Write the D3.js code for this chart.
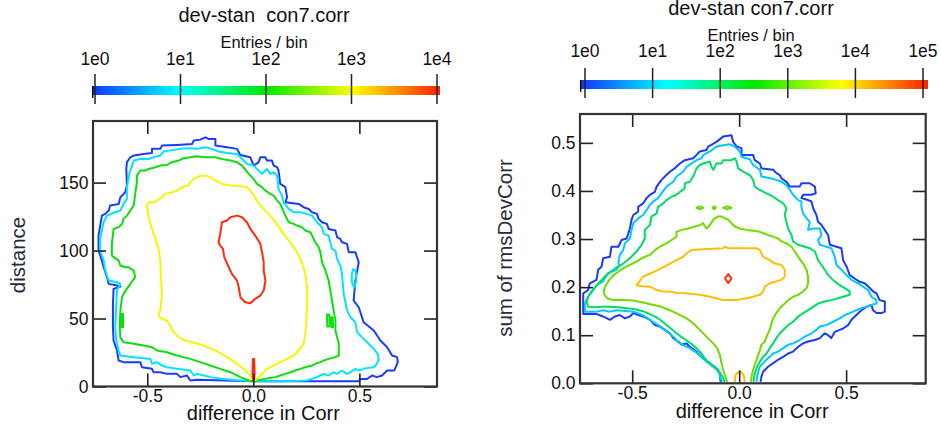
<!DOCTYPE html>
<html>
<head>
<meta charset="utf-8">
<script src="https://cdn.jsdelivr.net/npm/d3@7"></script>
<style>
  body { margin: 0; background: #fff; }
  svg { font-family: "Liberation Sans", Arial, sans-serif; }
</style>
</head>
<body>
<svg id="chart" width="941" height="427"></svg>
<script>
// ---- data ----
const leftTitle = 'dev-stan\u00a0 con7.corr';
const rightTitle = 'dev-stan con7.corr';
const barLabel = 'Entries / bin';
const xLabel = 'difference in Corr';
const leftYLabel = 'distance';
const rightYLabel = 'sum of rmsDevCorr';

const xTicks = [-0.5, 0, 0.5];
const leftYTicks = [0, 50, 100, 150];
const rightYTicks = [0, 0.1, 0.2, 0.3, 0.4, 0.5];
const leftBarTicks = [1, 10, 100, 1000, 10000];
const rightBarTicks = [1, 10, 100, 1000, 10000, 100000];

// colour ramp of the colour bar (blue -> cyan -> green -> yellow -> red)
const rampColors = ['#1034ff', '#00ffff', '#00e800', '#ffff00', '#ff2000'];

// left panel contours: [difference in Corr, distance]
const leftBlue = [[0.002,3.9],[-0.266,4.9],[-0.297,4.4],[-0.313,8.1],[-0.344,6.9],[-0.360,9.3],[-0.407,9.3],[-0.439,10.5],[-0.470,10.5],[-0.478,13.0],[-0.525,14.2],[-0.533,17.9],[-0.612,17.9],[-0.635,19.1],[-0.643,26.5],[-0.659,33.8],[-0.662,43.6],[-0.662,60.8],[-0.659,71.8],[-0.627,73.5],[-0.643,74.3],[-0.682,75.5],[-0.690,80.4],[-0.706,87.7],[-0.714,92.6],[-0.730,100.0],[-0.730,111.0],[-0.714,125.7],[-0.698,127.0],[-0.682,129.4],[-0.675,133.1],[-0.635,134.3],[-0.627,139.2],[-0.604,142.9],[-0.596,147.8],[-0.599,160.0],[-0.596,165.0],[-0.580,168.6],[-0.564,169.9],[-0.517,171.1],[-0.478,171.8],[-0.478,174.8],[-0.439,174.8],[-0.431,177.2],[-0.360,177.7],[-0.289,178.4],[-0.281,180.9],[-0.250,181.6],[-0.226,183.3],[-0.211,182.1],[-0.179,182.1],[-0.179,177.2],[-0.124,176.0],[-0.077,174.8],[-0.061,170.3],[-0.014,168.6],[0.002,162.5],[0.025,165.0],[0.033,168.6],[0.057,168.6],[0.064,166.2],[0.088,166.2],[0.096,162.5],[0.112,161.3],[0.119,158.8],[0.127,149.0],[0.151,146.6],[0.159,139.2],[0.151,135.5],[0.214,134.3],[0.237,131.9],[0.261,130.6],[0.277,128.2],[0.300,127.0],[0.308,123.3],[0.324,120.8],[0.347,119.6],[0.355,115.9],[0.387,114.7],[0.395,109.8],[0.410,108.6],[0.418,106.1],[0.442,104.9],[0.450,98.8],[0.481,98.8],[0.497,91.4],[0.481,77.9],[0.473,63.2],[0.497,58.3],[0.520,47.3],[0.568,41.2],[0.599,33.8],[0.631,28.9],[0.654,22.8],[0.678,21.6],[0.681,17.9],[0.665,11.8],[0.631,11.8],[0.607,8.1],[0.583,6.9],[0.560,8.1],[0.536,5.6],[0.505,5.6],[0.497,3.9]];
const leftCyan = [[0.002,3.9],[-0.061,4.4],[-0.140,5.6],[-0.203,6.9],[-0.234,8.1],[-0.266,9.3],[-0.281,8.1],[-0.297,11.8],[-0.360,13.0],[-0.407,14.2],[-0.431,15.4],[-0.454,17.9],[-0.478,16.7],[-0.486,20.3],[-0.564,21.6],[-0.627,22.8],[-0.635,26.5],[-0.646,33.8],[-0.651,43.6],[-0.646,60.8],[-0.643,70.6],[-0.627,75.5],[-0.643,76.7],[-0.682,77.9],[-0.698,85.3],[-0.706,92.6],[-0.722,100.0],[-0.722,108.6],[-0.706,120.8],[-0.690,125.7],[-0.651,128.2],[-0.627,129.4],[-0.612,134.3],[-0.596,138.0],[-0.596,146.6],[-0.583,157.6],[-0.572,162.5],[-0.564,166.2],[-0.533,167.4],[-0.494,167.4],[-0.470,168.6],[-0.439,169.9],[-0.423,172.8],[-0.399,173.5],[-0.344,174.8],[-0.305,175.2],[-0.266,174.8],[-0.226,176.0],[-0.195,174.8],[-0.164,172.8],[-0.124,171.8],[-0.077,171.1],[-0.061,168.6],[-0.030,163.7],[0.002,162.5],[0.025,158.8],[0.041,156.4],[0.064,160.0],[0.080,156.4],[0.096,157.6],[0.112,155.1],[0.119,145.3],[0.135,140.4],[0.143,135.5],[0.167,130.6],[0.190,128.2],[0.222,128.2],[0.253,127.0],[0.277,125.7],[0.300,120.8],[0.324,117.2],[0.332,112.3],[0.355,111.0],[0.363,106.1],[0.371,101.2],[0.387,100.0],[0.395,93.9],[0.410,89.0],[0.418,82.8],[0.426,68.1],[0.442,55.9],[0.458,51.0],[0.481,47.3],[0.489,40.0],[0.520,35.0],[0.544,31.4],[0.568,27.7],[0.586,24.0],[0.591,20.3],[0.583,16.7],[0.568,14.2],[0.544,13.7],[0.520,13.0],[0.497,11.8],[0.481,13.0],[0.458,10.5],[0.442,9.3],[0.418,11.8],[0.395,9.3],[0.379,10.5],[0.355,8.1],[0.332,9.3],[0.316,8.1],[0.300,6.9],[0.277,5.6],[0.253,4.4],[0.143,3.9]];
const leftCyanLoop = [[0.470,86.3],[0.483,85.0],[0.486,77.7],[0.476,72.8],[0.465,76.5],[0.464,82.6]];
const leftGreen = [[0.002,3.7],[-0.022,4.4],[-0.061,6.9],[-0.108,10.5],[-0.156,13.0],[-0.203,15.4],[-0.250,17.9],[-0.297,20.3],[-0.360,22.8],[-0.407,25.2],[-0.454,26.5],[-0.478,28.9],[-0.517,30.1],[-0.564,31.4],[-0.612,32.6],[-0.627,36.3],[-0.630,43.6],[-0.627,55.9],[-0.619,65.7],[-0.612,68.1],[-0.596,71.8],[-0.580,75.5],[-0.557,80.4],[-0.564,85.3],[-0.588,87.7],[-0.604,87.7],[-0.627,89.0],[-0.635,92.6],[-0.667,96.3],[-0.667,104.9],[-0.659,115.9],[-0.635,117.2],[-0.619,119.6],[-0.612,123.3],[-0.596,125.7],[-0.580,129.4],[-0.564,133.1],[-0.557,141.7],[-0.549,150.2],[-0.549,155.1],[-0.533,158.8],[-0.509,158.8],[-0.494,160.0],[-0.462,161.3],[-0.439,162.5],[-0.407,163.0],[-0.384,165.0],[-0.352,166.2],[-0.329,167.9],[-0.297,168.6],[-0.266,169.4],[-0.226,168.6],[-0.179,168.6],[-0.148,167.4],[-0.108,166.2],[-0.077,164.9],[-0.053,162.5],[-0.022,156.4],[0.002,152.7],[0.017,149.0],[0.041,146.6],[0.057,144.1],[0.080,141.7],[0.096,140.4],[0.112,136.8],[0.127,134.3],[0.151,125.7],[0.167,120.8],[0.190,119.6],[0.206,118.4],[0.230,117.2],[0.245,114.7],[0.269,113.5],[0.277,111.0],[0.292,106.1],[0.308,102.5],[0.316,98.8],[0.324,91.4],[0.340,85.3],[0.355,77.9],[0.363,70.6],[0.371,63.2],[0.379,55.9],[0.387,48.5],[0.387,41.2],[0.395,36.3],[0.403,31.4],[0.403,22.8],[0.387,21.6],[0.355,20.3],[0.332,19.1],[0.316,17.9],[0.292,16.7],[0.277,15.4],[0.245,14.2],[0.222,13.0],[0.198,11.8],[0.175,10.5],[0.151,9.3],[0.127,8.1],[0.104,6.9],[0.080,6.4],[0.057,5.6],[0.033,4.9]];
const leftGreenBits = [
  [[0.347,52.9],[0.358,52.9],[0.360,44.1],[0.349,44.1]],
  [[0.366,51.0],[0.374,51.0],[0.376,43.6],[0.368,43.6]],
  [[-0.623,53.4],[-0.614,53.4],[-0.614,43.6],[-0.623,43.6]]
];
const leftYellow = [[0.002,3.9],[-0.014,8.1],[-0.038,11.8],[-0.077,16.7],[-0.124,21.6],[-0.179,26.5],[-0.234,30.1],[-0.289,32.6],[-0.321,33.8],[-0.352,36.3],[-0.376,40.0],[-0.392,44.9],[-0.407,48.5],[-0.431,49.8],[-0.447,52.2],[-0.439,55.9],[-0.431,68.1],[-0.436,80.4],[-0.439,92.6],[-0.447,101.2],[-0.462,108.6],[-0.478,115.9],[-0.494,124.5],[-0.502,133.1],[-0.494,135.5],[-0.470,135.5],[-0.454,136.8],[-0.431,139.2],[-0.415,141.7],[-0.384,142.9],[-0.360,144.1],[-0.336,146.6],[-0.305,147.8],[-0.297,150.2],[-0.281,152.7],[-0.266,153.9],[-0.250,155.1],[-0.226,155.1],[-0.203,153.9],[-0.179,151.5],[-0.148,149.0],[-0.108,147.8],[-0.061,147.3],[-0.030,146.6],[-0.014,144.1],[0.002,140.4],[0.017,136.8],[0.033,133.1],[0.057,129.4],[0.080,125.7],[0.104,120.8],[0.127,115.9],[0.143,112.3],[0.167,107.4],[0.190,102.5],[0.206,98.8],[0.222,93.9],[0.234,89.0],[0.245,82.8],[0.253,73.0],[0.253,60.8],[0.250,48.5],[0.245,38.7],[0.237,31.4],[0.214,26.5],[0.190,22.8],[0.159,20.3],[0.127,17.9],[0.096,15.4],[0.064,13.0],[0.041,9.3],[0.017,5.6]];
const leftRed = [[-0.077,125.7],[-0.108,124.5],[-0.124,122.1],[-0.148,120.8],[-0.156,112.3],[-0.164,106.1],[-0.156,103.7],[-0.143,101.2],[-0.137,95.1],[-0.116,87.7],[-0.101,82.8],[-0.077,77.9],[-0.069,73.0],[-0.061,65.7],[-0.038,62.0],[-0.014,61.3],[0.009,64.5],[0.033,66.9],[0.049,70.6],[0.057,77.9],[0.049,85.3],[0.049,91.4],[0.041,98.8],[0.033,104.9],[0.009,111.0],[-0.014,115.9],[-0.030,120.8],[-0.053,124.5]];
const leftRedSpike = [[-0.002,20.3],[0.004,20.3],[0.006,9.3],[0.003,3.9],[-0.001,3.9],[-0.004,9.3]];

// right panel contours: [difference in Corr, sum of rmsDevCorr]
const rightBlue = [[-0.087,0.003],[-0.090,0.021],[-0.106,0.031],[-0.121,0.035],[-0.137,0.042],[-0.160,0.049],[-0.176,0.055],[-0.192,0.062],[-0.207,0.069],[-0.231,0.076],[-0.246,0.083],[-0.269,0.080],[-0.285,0.087],[-0.308,0.094],[-0.324,0.104],[-0.347,0.111],[-0.371,0.118],[-0.394,0.121],[-0.417,0.132],[-0.449,0.139],[-0.472,0.142],[-0.495,0.146],[-0.511,0.139],[-0.534,0.135],[-0.558,0.142],[-0.581,0.139],[-0.604,0.132],[-0.636,0.139],[-0.667,0.144],[-0.729,0.144],[-0.729,0.187],[-0.706,0.194],[-0.698,0.208],[-0.667,0.215],[-0.659,0.236],[-0.643,0.243],[-0.636,0.260],[-0.604,0.263],[-0.597,0.284],[-0.565,0.284],[-0.550,0.298],[-0.526,0.301],[-0.511,0.322],[-0.503,0.340],[-0.495,0.350],[-0.472,0.357],[-0.472,0.367],[-0.449,0.374],[-0.433,0.385],[-0.417,0.392],[-0.394,0.398],[-0.386,0.409],[-0.363,0.423],[-0.340,0.433],[-0.324,0.440],[-0.301,0.447],[-0.277,0.457],[-0.254,0.464],[-0.215,0.468],[-0.199,0.475],[-0.184,0.482],[-0.153,0.485],[-0.145,0.492],[-0.106,0.502],[-0.075,0.513],[-0.036,0.516],[-0.028,0.502],[-0.012,0.492],[0.011,0.489],[0.011,0.475],[0.065,0.475],[0.073,0.464],[0.097,0.457],[0.104,0.447],[0.159,0.444],[0.174,0.437],[0.190,0.433],[0.198,0.426],[0.221,0.419],[0.237,0.409],[0.283,0.409],[0.291,0.416],[0.330,0.416],[0.354,0.409],[0.358,0.395],[0.338,0.392],[0.299,0.392],[0.291,0.385],[0.322,0.381],[0.338,0.378],[0.346,0.364],[0.361,0.350],[0.369,0.336],[0.385,0.329],[0.400,0.319],[0.416,0.308],[0.424,0.288],[0.455,0.284],[0.478,0.281],[0.486,0.256],[0.502,0.243],[0.517,0.225],[0.540,0.218],[0.564,0.211],[0.587,0.208],[0.611,0.198],[0.626,0.191],[0.642,0.187],[0.657,0.173],[0.681,0.170],[0.681,0.149],[0.665,0.146],[0.642,0.146],[0.626,0.152],[0.618,0.163],[0.595,0.159],[0.572,0.152],[0.548,0.142],[0.525,0.132],[0.509,0.121],[0.486,0.114],[0.470,0.111],[0.447,0.107],[0.431,0.094],[0.416,0.100],[0.400,0.104],[0.377,0.094],[0.354,0.090],[0.322,0.087],[0.299,0.083],[0.276,0.076],[0.252,0.066],[0.229,0.062],[0.206,0.055],[0.182,0.049],[0.159,0.042],[0.136,0.035],[0.112,0.024],[0.104,0.014],[0.100,0.003]];
const rightCyan = [[-0.078,0.003],[-0.087,0.010],[-0.093,0.021],[-0.106,0.029],[-0.129,0.037],[-0.150,0.044],[-0.168,0.051],[-0.184,0.058],[-0.207,0.066],[-0.231,0.073],[-0.254,0.078],[-0.285,0.085],[-0.301,0.094],[-0.324,0.103],[-0.347,0.111],[-0.371,0.119],[-0.394,0.125],[-0.417,0.132],[-0.441,0.139],[-0.464,0.144],[-0.495,0.149],[-0.542,0.151],[-0.573,0.152],[-0.604,0.149],[-0.636,0.152],[-0.667,0.149],[-0.721,0.149],[-0.721,0.166],[-0.706,0.180],[-0.682,0.194],[-0.667,0.204],[-0.639,0.211],[-0.612,0.229],[-0.573,0.236],[-0.558,0.246],[-0.565,0.249],[-0.558,0.267],[-0.542,0.277],[-0.534,0.291],[-0.511,0.301],[-0.503,0.319],[-0.495,0.333],[-0.472,0.343],[-0.449,0.350],[-0.433,0.360],[-0.417,0.371],[-0.402,0.378],[-0.379,0.385],[-0.363,0.395],[-0.340,0.409],[-0.308,0.419],[-0.293,0.430],[-0.262,0.440],[-0.246,0.450],[-0.223,0.457],[-0.199,0.464],[-0.176,0.468],[-0.168,0.475],[-0.137,0.482],[-0.106,0.492],[-0.075,0.495],[-0.044,0.497],[-0.020,0.492],[0.003,0.482],[0.011,0.471],[0.050,0.466],[0.065,0.454],[0.097,0.444],[0.104,0.430],[0.151,0.426],[0.174,0.423],[0.198,0.419],[0.221,0.412],[0.237,0.402],[0.252,0.392],[0.276,0.381],[0.291,0.378],[0.291,0.367],[0.299,0.353],[0.315,0.343],[0.330,0.336],[0.322,0.319],[0.346,0.322],[0.377,0.322],[0.385,0.308],[0.369,0.298],[0.377,0.288],[0.408,0.284],[0.431,0.281],[0.447,0.263],[0.455,0.246],[0.478,0.236],[0.502,0.225],[0.525,0.215],[0.556,0.208],[0.579,0.201],[0.603,0.194],[0.618,0.180],[0.642,0.173],[0.642,0.166],[0.618,0.163],[0.595,0.159],[0.572,0.156],[0.548,0.152],[0.517,0.146],[0.494,0.142],[0.470,0.135],[0.439,0.128],[0.408,0.121],[0.377,0.118],[0.361,0.111],[0.338,0.104],[0.307,0.097],[0.283,0.090],[0.252,0.083],[0.229,0.080],[0.206,0.073],[0.182,0.066],[0.159,0.062],[0.143,0.055],[0.128,0.049],[0.112,0.042],[0.097,0.035],[0.089,0.024],[0.084,0.014],[0.081,0.003]];
const rightTeal = [[-0.067,0.003],[-0.078,0.014],[-0.093,0.024],[-0.114,0.035],[-0.140,0.042],[-0.160,0.052],[-0.176,0.062],[-0.199,0.073],[-0.223,0.082],[-0.246,0.089],[-0.269,0.096],[-0.293,0.104],[-0.316,0.113],[-0.340,0.121],[-0.363,0.130],[-0.386,0.137],[-0.417,0.144],[-0.449,0.150],[-0.488,0.154],[-0.526,0.156],[-0.565,0.158],[-0.604,0.159],[-0.643,0.159],[-0.674,0.158],[-0.706,0.159],[-0.713,0.170],[-0.706,0.180],[-0.690,0.191],[-0.670,0.201],[-0.651,0.211],[-0.628,0.222],[-0.604,0.231],[-0.573,0.241],[-0.542,0.249],[-0.511,0.260],[-0.480,0.274],[-0.456,0.288],[-0.441,0.301],[-0.441,0.319],[-0.417,0.329],[-0.410,0.347],[-0.386,0.353],[-0.379,0.367],[-0.355,0.374],[-0.340,0.381],[-0.316,0.388],[-0.293,0.392],[-0.277,0.398],[-0.254,0.405],[-0.254,0.416],[-0.231,0.419],[-0.215,0.430],[-0.199,0.447],[-0.184,0.454],[-0.168,0.457],[-0.137,0.461],[-0.129,0.450],[-0.121,0.444],[-0.114,0.450],[-0.106,0.457],[-0.083,0.457],[-0.075,0.464],[-0.036,0.464],[-0.020,0.468],[-0.012,0.461],[-0.005,0.447],[0.019,0.440],[0.050,0.433],[0.065,0.423],[0.073,0.409],[0.097,0.402],[0.128,0.395],[0.159,0.388],[0.182,0.381],[0.206,0.374],[0.221,0.364],[0.213,0.350],[0.221,0.336],[0.229,0.322],[0.245,0.308],[0.252,0.295],[0.276,0.288],[0.307,0.284],[0.330,0.281],[0.354,0.274],[0.369,0.256],[0.385,0.246],[0.400,0.236],[0.416,0.225],[0.439,0.215],[0.470,0.204],[0.494,0.198],[0.517,0.191],[0.517,0.184],[0.486,0.180],[0.463,0.177],[0.431,0.173],[0.400,0.170],[0.369,0.166],[0.346,0.159],[0.322,0.152],[0.299,0.146],[0.276,0.139],[0.252,0.128],[0.229,0.121],[0.206,0.111],[0.190,0.104],[0.174,0.094],[0.159,0.083],[0.143,0.073],[0.128,0.062],[0.112,0.055],[0.097,0.045],[0.084,0.035],[0.076,0.024],[0.070,0.014],[0.067,0.003]];
const rightLime = [[-0.056,0.003],[-0.072,0.024],[-0.083,0.042],[-0.090,0.059],[-0.103,0.073],[-0.121,0.083],[-0.153,0.097],[-0.184,0.111],[-0.215,0.125],[-0.246,0.135],[-0.285,0.144],[-0.324,0.152],[-0.363,0.159],[-0.410,0.164],[-0.449,0.168],[-0.495,0.172],[-0.542,0.173],[-0.589,0.173],[-0.617,0.177],[-0.631,0.185],[-0.632,0.194],[-0.623,0.204],[-0.607,0.215],[-0.589,0.224],[-0.565,0.232],[-0.534,0.241],[-0.503,0.248],[-0.480,0.253],[-0.456,0.260],[-0.417,0.267],[-0.394,0.277],[-0.371,0.284],[-0.340,0.291],[-0.316,0.298],[-0.293,0.305],[-0.293,0.315],[-0.269,0.319],[-0.238,0.322],[-0.207,0.326],[-0.184,0.329],[-0.168,0.333],[-0.160,0.326],[-0.153,0.322],[-0.137,0.329],[-0.121,0.340],[-0.114,0.343],[-0.098,0.347],[-0.083,0.347],[-0.067,0.343],[-0.051,0.340],[-0.036,0.333],[-0.020,0.326],[0.003,0.322],[0.034,0.319],[0.065,0.317],[0.097,0.315],[0.136,0.308],[0.159,0.305],[0.182,0.301],[0.198,0.295],[0.221,0.291],[0.245,0.284],[0.260,0.274],[0.276,0.263],[0.299,0.249],[0.315,0.236],[0.322,0.222],[0.322,0.208],[0.315,0.198],[0.299,0.191],[0.276,0.184],[0.252,0.180],[0.229,0.173],[0.213,0.166],[0.190,0.156],[0.174,0.146],[0.159,0.135],[0.151,0.125],[0.143,0.111],[0.128,0.097],[0.120,0.087],[0.104,0.080],[0.097,0.069],[0.089,0.059],[0.081,0.049],[0.073,0.038],[0.065,0.028],[0.058,0.014],[0.055,0.003]];
const rightLimeDashes = [
  [[-0.199,0.365],[-0.184,0.368],[-0.168,0.365],[-0.184,0.362]],
  [[-0.125,0.365],[-0.117,0.368],[-0.109,0.365],[-0.117,0.362]],
  [[-0.075,0.365],[-0.055,0.368],[-0.036,0.365],[-0.055,0.362]]
];
const rightOrange = [[-0.480,0.204],[-0.449,0.222],[-0.410,0.229],[-0.379,0.236],[-0.347,0.243],[-0.324,0.249],[-0.293,0.256],[-0.262,0.263],[-0.246,0.270],[-0.223,0.277],[-0.168,0.279],[-0.075,0.281],[-0.067,0.284],[-0.051,0.281],[0.081,0.281],[0.097,0.277],[0.112,0.263],[0.143,0.256],[0.167,0.249],[0.198,0.246],[0.213,0.236],[0.213,0.222],[0.198,0.215],[0.167,0.211],[0.143,0.208],[0.120,0.201],[0.112,0.191],[0.097,0.184],[0.065,0.180],[0.034,0.177],[-0.012,0.173],[-0.075,0.173],[-0.106,0.177],[-0.137,0.180],[-0.184,0.184],[-0.246,0.187],[-0.293,0.188],[-0.324,0.191],[-0.355,0.191],[-0.386,0.194],[-0.417,0.201],[-0.449,0.202]];
const rightOrangeArc = [[-0.020,0.003],[-0.017,0.017],[-0.005,0.023],[0.011,0.023],[0.022,0.016],[0.026,0.003]];
const rightRed = [[-0.066,0.218],[-0.051,0.227],[-0.036,0.218],[-0.051,0.208]];

// ---- drawing ----
const svg = d3.select('#chart');
const defs = svg.append('defs');

// Function to draw one colour bar with its log ticks
function drawColorBar(cfg) {
  const grad = defs.append('linearGradient').attr('id', cfg.id)
    .attr('x1', '0%').attr('x2', '100%').attr('y1', '0%').attr('y2', '0%');
  rampColors.forEach((c, i) => {
    grad.append('stop').attr('offset', (i / (rampColors.length - 1) * 100) + '%').attr('stop-color', c);
  });

  const scale = d3.scaleLog().domain([1, d3.max(cfg.ticks)]).range([cfg.t0, cfg.t1]);
  const g = svg.append('g');

  g.append('rect')
    .attr('x', cfg.x0).attr('y', cfg.y)
    .attr('width', cfg.x1 - cfg.x0).attr('height', 9)
    .attr('fill', 'url(#' + cfg.id + ')');
  g.append('line')
    .attr('x1', cfg.x0 + 0.7).attr('x2', cfg.x0 + 0.7)
    .attr('y1', cfg.y).attr('y2', cfg.y + 12)
    .attr('stroke', '#111').attr('stroke-width', 1.5);

  g.selectAll('.bt').data(cfg.ticks).enter().append('line')
    .attr('x1', d => scale(d)).attr('x2', d => scale(d))
    .attr('y1', cfg.y - 12).attr('y2', cfg.y + 18)
    .attr('stroke', '#222').attr('stroke-width', 1.5);

  g.selectAll('.bl').data(cfg.ticks).enter().append('text')
    .attr('x', d => scale(d)).attr('y', cfg.labelY)
    .attr('text-anchor', 'middle').attr('font-size', 17.5).attr('fill', '#111')
    .text(d => '1e' + Math.round(Math.log10(d)));

  g.append('text')
    .attr('x', cfg.cx).attr('y', cfg.unitY)
    .attr('text-anchor', 'middle').attr('font-size', 16.5).attr('fill', '#111')
    .text(barLabel);

  g.append('text')
    .attr('x', cfg.cx).attr('y', cfg.titleY)
    .attr('text-anchor', 'middle').attr('font-size', 20).attr('fill', '#111')
    .text(cfg.title);
}

// Function to draw one contour panel with its inward-ticked frame
function drawPanel(cfg) {
  const x = d3.scaleLinear().domain(cfg.xDomain).range([cfg.left, cfg.right]);
  const y = d3.scaleLinear().domain(cfg.yDomain).range([cfg.bottom, cfg.top]);
  const g = svg.append('g');

  defs.append('clipPath').attr('id', cfg.id + '-clip')
    .append('rect')
    .attr('x', cfg.left).attr('y', cfg.top)
    .attr('width', cfg.right - cfg.left).attr('height', cfg.bottom - cfg.top);

  const line = d3.line().x(d => x(d[0])).y(d => y(d[1]));
  const plot = g.append('g').attr('clip-path', 'url(#' + cfg.id + '-clip)');
  cfg.contours.forEach(c => {
    plot.append('path')
      .attr('d', line(c.pts) + (c.closed ? 'Z' : ''))
      .attr('fill', 'none')
      .attr('stroke', c.color)
      .attr('stroke-width', 2)
      .attr('stroke-linejoin', 'round');
  });

  const axes = [
    { a: d3.axisBottom(x).tickValues(xTicks).tickFormat(d => d.toFixed(1)).tickPadding(3),
      t: `translate(0,${cfg.bottom})` },
    { a: d3.axisTop(x).tickValues(xTicks).tickFormat(''), t: `translate(0,${cfg.top})` },
    { a: d3.axisLeft(y).tickValues(cfg.yTicks).tickFormat(cfg.yFormat).tickPadding(4.5),
      t: `translate(${cfg.left},0)` },
    { a: d3.axisRight(y).tickValues(cfg.yTicks).tickFormat(''), t: `translate(${cfg.right},0)` }
  ];
  axes.forEach(ax => {
    const ag = g.append('g').attr('transform', ax.t)
      .call(ax.a.tickSize(-13).tickSizeOuter(0));
    ag.select('.domain').remove();
    ag.attr('font-family', null).attr('font-size', 17.5).attr('color', '#222');
    ag.selectAll('line').attr('stroke-width', 1.6);
    ag.selectAll('text').attr('fill', '#111');
  });

  g.append('rect')
    .attr('x', cfg.left).attr('y', cfg.top)
    .attr('width', cfg.right - cfg.left).attr('height', cfg.bottom - cfg.top)
    .attr('fill', 'none').attr('stroke', '#333').attr('stroke-width', 2.2);

  g.append('text')
    .attr('x', (x(0) + cfg.xLabelShift)).attr('y', cfg.xLabelY)
    .attr('text-anchor', 'middle').attr('font-size', 20).attr('fill', '#111')
    .text(xLabel);

  g.append('text')
    .attr('transform', `translate(${cfg.yLabelX},${cfg.yLabelY}) rotate(-90)`)
    .attr('text-anchor', 'middle').attr('font-size', 20.5).attr('fill', '#2a2a3a')
    .text(cfg.yLabel);
}

drawColorBar({ id: 'rampL', title: leftTitle, ticks: leftBarTicks, t0: 95, t1: 437, x0: 92, x1: 440, y: 86,
  labelY: 65, unitY: 48, titleY: 22, cx: 264 });
drawColorBar({ id: 'rampR', title: rightTitle, ticks: rightBarTicks, t0: 585, t1: 923, x0: 580, x1: 928, y: 80,
  labelY: 57, unitY: 41, titleY: 15, cx: 751 });

drawPanel({
  id: 'pl', left: 93, right: 437, top: 121, bottom: 386.5,
  xDomain: [-0.756, 0.866], yDomain: [0, 195.3],
  yTicks: leftYTicks, yFormat: d => String(d),
  xLabelY: 420, xLabelShift: 10, yLabelX: 25, yLabelY: 255, yLabel: leftYLabel,
  contours: [
    { pts: leftBlue, color: '#1a3cff', closed: true },
    { pts: leftCyan, color: '#00e4ff', closed: true },
    { pts: leftCyanLoop, color: '#00e4ff', closed: true },
    { pts: leftGreen, color: '#10dc10', closed: true },
    ...leftGreenBits.map(p => ({ pts: p, color: '#10dc10', closed: true })),
    { pts: leftYellow, color: '#f6f600', closed: true },
    { pts: leftRed, color: '#ff2a10', closed: true },
    { pts: leftRedSpike, color: '#ff2a10', closed: true }
  ]
});

drawPanel({
  id: 'pr', left: 580, right: 925.7, top: 114, bottom: 383.3,
  xDomain: [-0.744, 0.872], yDomain: [0, 0.56],
  yTicks: rightYTicks, yFormat: d => d.toFixed(1),
  xLabelY: 418, xLabelShift: 13, yLabelX: 512, yLabelY: 248, yLabel: rightYLabel,
  contours: [
    { pts: rightBlue, color: '#1a3cff', closed: false },
    { pts: rightCyan, color: '#00c8ff', closed: false },
    { pts: rightTeal, color: '#00dc66', closed: false },
    { pts: rightLime, color: '#70dc00', closed: false },
    ...rightLimeDashes.map(p => ({ pts: p, color: '#70dc00', closed: true })),
    { pts: rightOrange, color: '#ffbf00', closed: true },
    { pts: rightOrangeArc, color: '#ffbf00', closed: false },
    { pts: rightRed, color: '#ff3010', closed: true }
  ]
});
</script>
</body>
</html>
